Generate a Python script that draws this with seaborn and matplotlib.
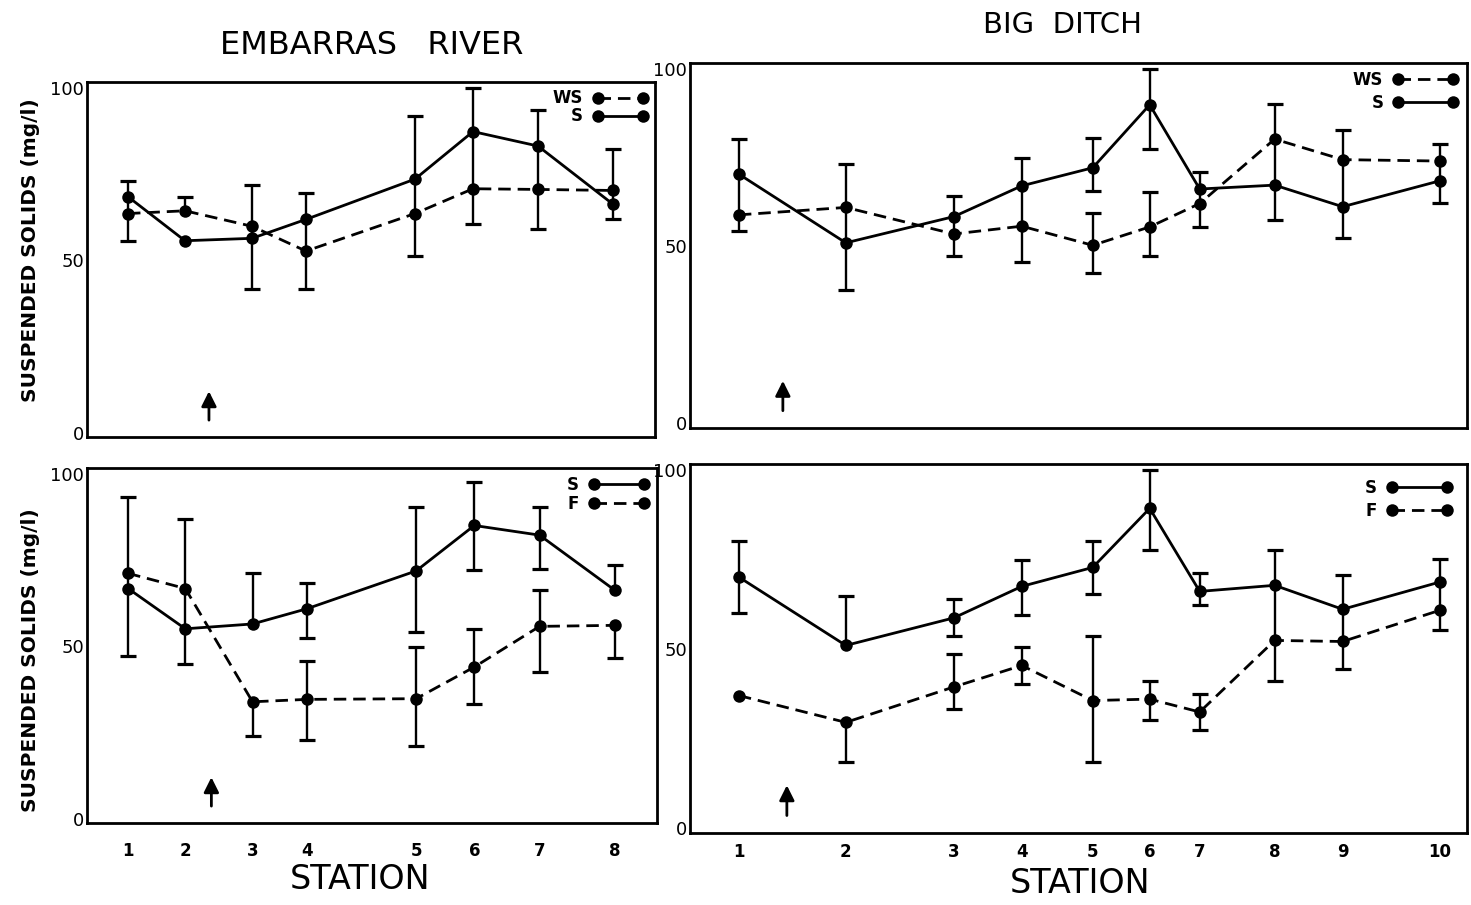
import numpy as np
import pandas as pd
import matplotlib
matplotlib.use("Agg")
import matplotlib.pyplot as plt
from matplotlib.lines import Line2D
import seaborn as sns

nan = np.nan

# ---- station layout (relative distance downstream) ----
embarras_labels = ["1", "2", "3", "4", "5", "6", "7", "8"]
embarras_dist = [0.0, 5.7, 12.4, 17.8, 28.7, 34.5, 41.0, 48.5]
ditch_labels = ["1", "2", "3", "4", "5", "6", "7", "8", "9", "10"]
ditch_dist = [0.0, 10.7, 21.5, 28.3, 35.4, 41.1, 46.1, 53.6, 60.4, 70.1]

# ---- Embarras River, WS vs S ----
emb_ws = [63.6, 64.4, 59.9, 52.7, 63.6, 70.8, 70.6, 70.3]
emb_ws_lo = [55.7, nan, 56.4, 41.8, 51.2, 60.7, 59.1, 66.3]
emb_ws_hi = [nan, 68.5, 71.8, nan, nan, nan, nan, 82.2]
emb_s = [68.5, 55.7, 56.4, 61.9, 73.6, 87.4, 83.2, 66.3]
emb_s_lo = [63.6, nan, 41.6, 52.7, 63.6, 70.8, 70.6, 61.9]
emb_s_hi = [73.1, nan, nan, 69.6, 91.9, 100.0, 93.6, nan]

# ---- Big Ditch, WS vs S ----
bd_ws = [58.9, 61.0, 53.5, 55.7, 50.3, 55.5, 62.1, 80.3, 74.5, 74.1]
bd_ws_lo = [54.3, 51.0, 47.4, 45.7, 42.4, 47.3, 55.5, 67.3, 61.2, 68.5]
bd_ws_hi = [nan, 73.3, nan, nan, 59.5, 65.4, nan, 90.2, 82.9, 78.8]
bd_s = [70.4, 51.0, 58.4, 67.1, 72.2, 90.0, 66.2, 67.3, 61.2, 68.5]
bd_s_lo = [58.9, 37.6, 53.5, 55.7, 65.5, 77.6, 62.1, 57.4, 52.4, 62.2]
bd_s_hi = [80.2, nan, 64.1, 75.0, 80.5, 100.0, 71.1, nan, nan, nan]

# ---- Embarras River, S vs F ----
emb2_s = [66.8, 55.1, 56.5, 60.9, 71.9, 85.1, 82.3, 66.3]
emb2_s_lo = [47.1, 44.8, nan, 52.5, 54.3, 72.1, 72.4, nan]
emb2_s_hi = [nan, nan, 71.3, 68.3, 90.4, 97.8, 90.4, 73.7]
emb_f = [71.2, 66.8, 33.9, 34.6, 34.8, 44.0, 55.8, 56.1]
emb_f_lo = [66.8, 55.1, 24.0, 22.9, 21.0, 33.3, 42.6, 46.6]
emb_f_hi = [93.3, 87.1, nan, 45.8, 49.8, 55.1, 66.3, nan]

# ---- Big Ditch, S vs F ----
bd2_s = [70.2, 51.1, 58.8, 67.6, 72.9, 89.4, 66.2, 67.9, 61.2, 68.8]
bd2_s_lo = [60.2, nan, 53.7, 59.6, 65.4, 77.9, 62.3, 52.5, 52.2, 60.9]
bd2_s_hi = [80.3, 65.0, 64.0, 75.0, 80.4, 100.0, 71.4, 77.9, 70.8, 75.3]
bd_f = [37.1, 29.6, 39.5, 45.5, 35.7, 36.1, 32.5, 52.5, 52.2, 60.9]
bd_f_lo = [nan, 18.6, 33.3, 40.4, 18.6, 30.4, 27.5, 41.3, 44.5, 55.3]
bd_f_hi = [nan, nan, 48.7, 50.6, 53.7, 41.3, 37.5, nan, nan, nan]

y_ticks = [0, 50, 100]

sns.set_style("white")
plt.rcParams["font.family"] = ["DejaVu Sans"]
plt.rcParams["text.color"] = "black"
plt.rcParams["axes.labelcolor"] = "black"
plt.rcParams["xtick.color"] = "black"
plt.rcParams["ytick.color"] = "black"

DASH = (4.5, 2.5)
LW = 2.0


def draw_panel(ax, dist, labels, series, show_xlabels, xlim, xpad, legend_kw):
    names = list(series.keys())
    frames = [pd.DataFrame({"dist": dist, "value": series[n]["v"], "series": n}) for n in names]
    df = pd.concat(frames, ignore_index=True)
    dashes = {n: (DASH if series[n]["dashed"] else "") for n in names}
    markers = {n: "o" for n in names}
    sns.lineplot(data=df, x="dist", y="value", style="series", style_order=names,
                 dashes=dashes, markers=markers, color="black", linewidth=LW,
                 markersize=9, markeredgewidth=0, sort=False, legend=False,
                 estimator=None, ax=ax)

    d = np.asarray(dist, dtype=float)
    pts = np.vstack([np.asarray(series[n]["v"], dtype=float) for n in names]).T
    for n in names:
        v = np.asarray(series[n]["v"], dtype=float)
        for end in (np.asarray(series[n]["lo"], dtype=float), np.asarray(series[n]["hi"], dtype=float)):
            m = ~np.isnan(end)
            ax.vlines(d[m], v[m], end[m], color="black", lw=1.7)
            # whiskers that stop on another plotted point carry no cap
            on_point = np.isclose(end[:, None], pts).any(axis=1)
            cm = m & ~on_point
            ax.plot(d[cm], end[cm], ls="none", marker="_", ms=11, mew=2.3, color="black")

    ax.set_xlim(*xlim)
    ax.set_ylim(-1.3, 101.8)
    ax.set_xticks(dist)
    ax.set_xticklabels(labels if show_xlabels else [])
    ax.set_yticks(y_ticks)
    ax.set_yticklabels([str(t) for t in y_ticks])
    ax.set_xlabel("")
    ax.set_ylabel("")
    ax.tick_params(axis="x", direction="in", length=8, width=1.5, pad=xpad,
                   labelsize=12, colors="black")
    ax.tick_params(axis="y", direction="in", length=9, width=1.8, pad=2,
                   labelsize=13, colors="black")
    for lab in ax.get_xticklabels():
        lab.set_fontweight("bold")
    for sp in ax.spines.values():
        sp.set_linewidth(2.0)
        sp.set_color("black")

    handles = [Line2D([], [], color="black", lw=LW, marker="o", ms=9, mew=0,
                      ls=(0, DASH) if series[n]["dashed"] else "-") for n in names]
    ax.legend(handles, names, loc="upper right", markerfirst=False, numpoints=2,
              frameon=False, prop={"size": 12, "weight": "bold"},
              handletextpad=0.6, **legend_kw)


fig = plt.figure(figsize=(14.71, 9.05), dpi=100)
ax_tl = fig.add_axes([0.0591, 0.5171, 0.3862, 0.3923])
ax_tr = fig.add_axes([0.4690, 0.5271, 0.5280, 0.4033])
ax_bl = fig.add_axes([0.0591, 0.0906, 0.3875, 0.3923])
ax_br = fig.add_axes([0.4690, 0.0796, 0.5280, 0.4077])

emb_xlim = (-4.1, 52.7)
bd_xlim = (-4.9, 72.8)

draw_panel(ax_tl, embarras_dist, embarras_labels,
           {"WS": {"v": emb_ws, "lo": emb_ws_lo, "hi": emb_ws_hi, "dashed": True},
            "S": {"v": emb_s, "lo": emb_s_lo, "hi": emb_s_hi, "dashed": False}},
           False, emb_xlim, 14,
           dict(handlelength=3.3, labelspacing=0.0, borderaxespad=0.05))
draw_panel(ax_tr, ditch_dist, ditch_labels,
           {"WS": {"v": bd_ws, "lo": bd_ws_lo, "hi": bd_ws_hi, "dashed": True},
            "S": {"v": bd_s, "lo": bd_s_lo, "hi": bd_s_hi, "dashed": False}},
           False, bd_xlim, 7,
           dict(handlelength=3.9, labelspacing=0.3, borderaxespad=0.1))
draw_panel(ax_bl, embarras_dist, embarras_labels,
           {"S": {"v": emb2_s, "lo": emb2_s_lo, "hi": emb2_s_hi, "dashed": False},
            "F": {"v": emb_f, "lo": emb_f_lo, "hi": emb_f_hi, "dashed": True}},
           True, emb_xlim, 14,
           dict(handlelength=3.6, labelspacing=0.05, borderaxespad=0.1))
draw_panel(ax_br, ditch_dist, ditch_labels,
           {"S": {"v": bd2_s, "lo": bd2_s_lo, "hi": bd2_s_hi, "dashed": False},
            "F": {"v": bd_f, "lo": bd_f_lo, "hi": bd_f_hi, "dashed": True}},
           True, bd_xlim, 7,
           dict(handlelength=3.9, labelspacing=0.3, borderaxespad=0.5))

# upward arrows marking the inflow point on each stream
for ax, xa in ((ax_tl, 8.1), (ax_bl, 8.3), (ax_tr, 4.4), (ax_br, 4.8)):
    ax.annotate("", xy=(xa, 12.8), xytext=(xa, 2.8),
                arrowprops=dict(arrowstyle="-|>,head_length=0.9,head_width=0.45",
                                color="black", lw=2.0))

fig.text(0.2529, 0.950, "EMBARRAS   RIVER", ha="center", va="center", fontsize=23)
fig.text(0.7226, 0.972, "BIG  DITCH", ha="center", va="center", fontsize=21)
fig.text(0.2447, 0.028, "STATION", ha="center", va="center", fontsize=24)
fig.text(0.7340, 0.024, "STATION", ha="center", va="center", fontsize=24)
for yc in (0.724, 0.271):
    fig.text(0.021, yc, "SUSPENDED SOLIDS (mg/l)", rotation=90, ha="center",
             va="center", fontsize=14.5, fontweight="bold")

fig.savefig("out.png", dpi=100, facecolor="white")
